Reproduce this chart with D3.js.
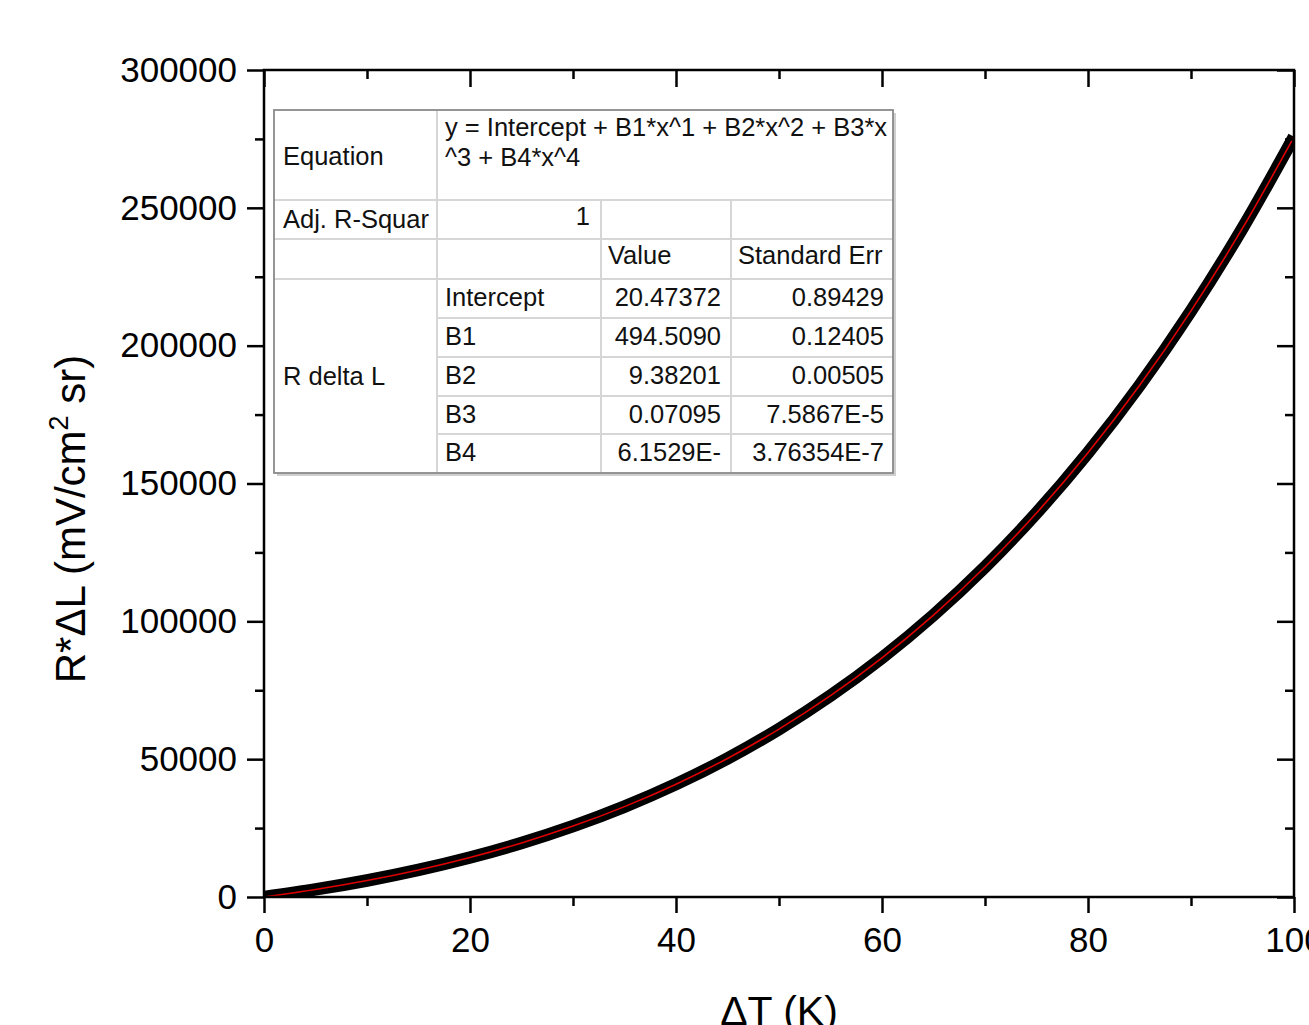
<!DOCTYPE html>
<html>
<head>
<meta charset="utf-8">
<script src="https://cdn.jsdelivr.net/npm/d3@7"></script>
<style>
  body { margin: 0; background: #fff; }
  svg { display: block; font-family: "Liberation Sans", Arial, sans-serif; }
</style>
</head>
<body>
<svg id="chart" width="1309" height="1025"></svg>
<script>
// Polynomial fit of R*dL vs dT (data + fit curve + Origin-style results table)

var dT = [0, 5, 10, 15, 20, 25, 30, 35, 40, 45, 50, 55, 60, 65, 70, 75, 80, 85, 90, 95, 100];
var rdl = [20, 2740, 5980, 9820, 14330, 19600, 25710, 32790, 40930, 50260, 60920,
  73030, 86770, 102270, 119720, 139280, 161160, 185530, 212610, 242610, 275770];
// fitted curve (red)
var fitY = [20, 2736, 5980, 9820, 14329, 19596, 25713, 32786, 40927, 50259, 60915,
  73032, 86765, 102272, 119717, 139283, 161155, 185533, 212612, 242612, 275770];

var xTicks = [0, 20, 40, 60, 80, 100];
var yTicks = [0, 50000, 100000, 150000, 200000, 250000, 300000];

// fit results table
var tableRows = [
  ["Intercept", "20.47372", "0.89429"],
  ["B1", "494.5090", "0.12405"],
  ["B2", "9.38201", "0.00505"],
  ["B3", "0.07095", "7.5867E-5"],
  ["B4", "6.1529E-", "3.76354E-7"]
];
var equationLines = ["y = Intercept + B1*x^1 + B2*x^2 + B3*x", "^3 + B4*x^4"];

var svg = d3.select("#chart");
var pLeft = 264, pRight = 1294, pTop = 70, pBottom = 897;

var x = d3.scaleLinear().domain([0, 100]).range([pLeft, pRight]);
var y = d3.scaleLinear().domain([0, 300000]).range([pBottom, pTop]);

svg.append("clipPath").attr("id", "plotclip").append("rect")
  .attr("x", pLeft).attr("y", pTop).attr("width", pRight - pLeft).attr("height", pBottom - pTop);

// curves
var line = d3.line().x((d, i) => x(dT[i])).y(d => y(d)).curve(d3.curveCatmullRom);
var curves = svg.append("g").attr("clip-path", "url(#plotclip)");
curves.append("path").attr("d", line(rdl))
  .attr("fill", "none").attr("stroke", "#000").attr("stroke-width", 12.5);
curves.append("path").attr("d", line(fitY))
  .attr("fill", "none").attr("stroke", "#e00000").attr("stroke-width", 1.6);

// axes
function styleAxis(g) {
  g.select(".domain").remove();
  g.selectAll("line").attr("stroke", "#000").attr("stroke-width", 2.5);
  g.selectAll("text").attr("font-size", 35).attr("fill", "#000")
    .attr("font-family", "'Liberation Sans', Arial, sans-serif");
}
var xMinor = d3.range(10, 100, 20);
var yMinor = d3.range(25000, 300000, 50000);

svg.append("g").attr("transform", "translate(0," + pBottom + ")")
  .call(d3.axisBottom(x).tickValues(xTicks).tickSize(16).tickPadding(14).tickFormat(d3.format("d")))
  .call(styleAxis);
svg.append("g").attr("transform", "translate(0," + pBottom + ")")
  .call(d3.axisBottom(x).tickValues(xMinor).tickSize(9).tickFormat(""))
  .call(styleAxis);
svg.append("g").attr("transform", "translate(" + pLeft + ",0)")
  .call(d3.axisLeft(y).tickValues(yTicks).tickSize(17).tickPadding(10).tickFormat(d3.format("d")))
  .call(styleAxis);
svg.append("g").attr("transform", "translate(" + pLeft + ",0)")
  .call(d3.axisLeft(y).tickValues(yMinor).tickSize(9).tickFormat(""))
  .call(styleAxis);
// top and right: inward ticks, no labels
svg.append("g").attr("transform", "translate(0," + pTop + ")")
  .call(d3.axisBottom(x).tickValues(xTicks).tickSize(17).tickFormat(""))
  .call(styleAxis);
svg.append("g").attr("transform", "translate(0," + pTop + ")")
  .call(d3.axisBottom(x).tickValues(xMinor).tickSize(9).tickFormat(""))
  .call(styleAxis);
svg.append("g").attr("transform", "translate(" + pRight + ",0)")
  .call(d3.axisLeft(y).tickValues(yTicks).tickSize(17).tickFormat(""))
  .call(styleAxis);
svg.append("g").attr("transform", "translate(" + pRight + ",0)")
  .call(d3.axisLeft(y).tickValues(yMinor).tickSize(9).tickFormat(""))
  .call(styleAxis);

// frame
svg.append("rect").attr("x", pLeft).attr("y", pTop)
  .attr("width", pRight - pLeft).attr("height", pBottom - pTop)
  .attr("fill", "none").attr("stroke", "#000").attr("stroke-width", 2.5);

// axis titles
svg.append("text").attr("x", (pLeft + pRight) / 2).attr("y", 1025)
  .attr("text-anchor", "middle").attr("font-size", 41)
  .text("\u0394T (K)");
var yt = svg.append("text").attr("transform", "translate(85,519) rotate(-90)")
  .attr("text-anchor", "middle").attr("font-size", 42);
yt.append("tspan").text("R*\u0394L (mV/cm");
yt.append("tspan").attr("font-size", 27).attr("dy", -17).text("2");
yt.append("tspan").attr("dy", 17).text(" sr)");

// results table
var colX = [274, 437, 601, 731, 893];
var rowY = [110, 200, 239, 279, 318, 357, 396, 434, 473];
var tbl = svg.append("g").attr("font-size", 25.5).attr("fill", "#111");

tbl.append("rect").attr("x", colX[0] + 3).attr("y", rowY[0] + 3)
  .attr("width", colX[4] - colX[0]).attr("height", rowY[8] - rowY[0])
  .attr("fill", "#cfcfcf");
tbl.append("rect").attr("x", colX[0]).attr("y", rowY[0])
  .attr("width", colX[4] - colX[0]).attr("height", rowY[8] - rowY[0])
  .attr("fill", "#fff");

var grid = "#d6d6d6";
// horizontal lines
rowY.slice(1, 8).forEach(function (ry, i) {
  var x0 = i >= 3 ? colX[1] : colX[0];
  tbl.append("line").attr("x1", x0).attr("x2", colX[4]).attr("y1", ry).attr("y2", ry)
    .attr("stroke", grid).attr("stroke-width", 2);
});
// vertical lines
tbl.append("line").attr("x1", colX[1]).attr("x2", colX[1]).attr("y1", rowY[0]).attr("y2", rowY[8])
  .attr("stroke", grid).attr("stroke-width", 2);
[colX[2], colX[3]].forEach(function (cx) {
  tbl.append("line").attr("x1", cx).attr("x2", cx).attr("y1", rowY[1]).attr("y2", rowY[8])
    .attr("stroke", grid).attr("stroke-width", 2);
});
tbl.append("rect").attr("x", colX[0]).attr("y", rowY[0])
  .attr("width", colX[4] - colX[0]).attr("height", rowY[8] - rowY[0])
  .attr("fill", "none").attr("stroke", "#8a8a8a").attr("stroke-width", 1.8);

function cell(tx, ty, s, anchor) {
  tbl.append("text").attr("x", tx).attr("y", ty).attr("text-anchor", anchor || "start").text(s);
}
cell(283, 165, "Equation");
cell(445, 136, equationLines[0]);
cell(445, 166, equationLines[1]);
cell(283, 228, "Adj. R-Squar");
cell(590, 225, "1", "end");
cell(608, 264, "Value");
cell(738, 264, "Standard Err");
cell(283, 385, "R delta L");
tableRows.forEach(function (r, i) {
  var base = rowY[i + 3] + 27;
  cell(445, base, r[0]);
  cell(colX[3] - 10, base, r[1], "end");
  cell(colX[4] - 9, base, r[2], "end");
});
</script>
</body>
</html>
